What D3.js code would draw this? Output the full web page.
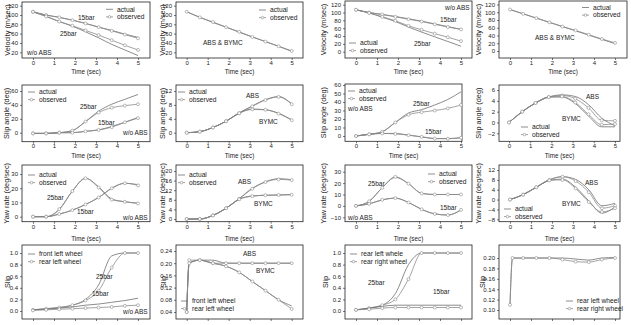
<!DOCTYPE html>
<html><head><meta charset="utf-8">
<script src="https://cdn.jsdelivr.net/npm/d3@7"></script>
<style>body{margin:0;background:#fff}svg{display:block;font-family:"Liberation Sans",Arial,sans-serif}</style>
</head><body><svg id="c" width="631" height="325"></svg>
<script>
// time grids (sec)
const T  = [0,0.625,1.25,1.875,2.5,3.125,3.75,4.375,5];
const T2 = [0,0.12,0.625,1.25,1.875,2.5,3.125,3.75,4.375,5];
const xTicks = [0,1,2,3,4,5];

// Row 1: velocity (m/sec)
const velA15act = [107,100,95,89,82,74,67,59,52];
const velA15obs = [107,100,95,89,82,74,66,58,50];
const velA25act = [107,97,86,76,64,51,37,25,13];
const velA25obs = [107,97,86,77,67,57,46,35,25];
const velBact   = [107,95,84,74,63,53,43,33,22];
const velBobs   = [107,95,85,74,64,53,43,33,23];
const velC15act = [107,100,95,90,84,78,71,64,57];
const velC15obs = [107,100,95,89,83,77,70,63,57];
const velC25act = [107,99,88,77,63,50,38,26,14];
const velC25obs = [107,99,89,79,66,56,46,37,27];
const velDact   = [107,96,85,74,63,52,41,30,19];
const velDobs   = [107,96,85,74,63,53,42,31,21];

// Row 2: slip angle (deg)
const saA25act = [-1,-1,0,3,16,31,41,48,55];
const saA25obs = [-1,-1,0,3,16,29,36,39,41];
const saA15act = [-1,-1,0,0,2,4,9,15,22];
const saA15obs = [-1,-1,0,0,2,4,8,15,21];
const saBabsAct = [0,0.3,1.5,3.3,5.7,7.7,9.5,10.4,8.3];
const saBabsObs = [0,0.3,1.5,3.3,5.6,7.6,9.4,10.3,8.2];
const saBbymcAct = [0,0.3,1.5,3.3,5.7,6.8,6.6,5.6,3.7];
const saBbymcObs = [0,0.3,1.5,3.3,5.6,6.7,6.6,5.5,3.6];
const saC25act = [0,2,5,16,27,31,36.5,43,52];
const saC25obs = [0,2,5,16,25,28,30,32.5,36.5];
const saC15act = [0,2,3,3,1,-1,-3,-3,-2];
const saC15obs = [0,2,3,2.5,1,-1,-3,-3.2,-2];
const saDabsAct = [0,2,3.6,4.7,5.1,4.8,3.3,0.8,-0.6];
const saDabsObs = [0,2,3.6,4.7,5.0,4.4,2.7,0.4,0.3];
const saDbymcAct = [0,2,3.6,4.7,4.7,3.5,1.2,-0.8,-0.8];
const saDbymcObs = [0,2,3.6,4.7,4.8,3.7,1.5,-0.4,-0.3];

// Row 3: yaw rate (deg/sec)
const yrA25act = [0,0,5,18,27,21,12.5,10.5,9.5];
const yrA25obs = [0,0,5.3,18,27,20.5,12,10.5,9.3];
const yrA15act = [0,0,1.8,4.6,8.6,13.5,20,23.5,22.5];
const yrA15obs = [0,0,1.9,4.6,8.6,13.5,20,23.5,22];
const yrBabsAct = [0,0,1.5,4.5,8.5,12.8,15.5,16.8,16.4];
const yrBabsObs = [0,0,1.5,4.5,8.4,12.6,15.4,16.5,16.2];
const yrBbymcAct = [0,0,1.5,4.5,8.3,9.6,9.9,10,10.2];
const yrBbymcObs = [0,0,1.5,4.5,8.2,9.5,9.9,10,10.1];
const yrC25act = [0,4,16,25,19.5,11,10,10,10];
const yrC25obs = [0,4,16,25.5,19.5,11,10,10,10];
const yrC15act = [0,1.8,5.3,6.8,3,-3,-7,-8,-3.5];
const yrC15obs = [0,1.8,5.3,6.8,3,-3,-7,-8,-3.5];
const yrDabsAct = [0,2,5,8,9.3,8.2,4,-2.5,-1.5];
const yrDabsObs = [0,2,5,8,9.3,7.5,3,-3.5,-2.5];
const yrDbymcAct = [0,2,5,7.8,8.3,5,-0.5,-5.5,-3];
const yrDbymcObs = [0,2,5,7.8,8,4.5,-1,-5,-3.5];

// Row 4: slip
const slA25front = [0.02,0.04,0.06,0.1,0.2,0.45,0.95,1.0,1.0];
const slA25rear  = [0.02,0.04,0.06,0.1,0.18,0.35,0.75,1.0,1.0];
const slA15front = [0.02,0.03,0.05,0.07,0.1,0.12,0.15,0.18,0.22];
const slA15rear  = [0.01,0.02,0.03,0.04,0.05,0.06,0.07,0.09,0.1];
const slBabsFront  = [0.04,0.2,0.21,0.21,0.2,0.2,0.2,0.2,0.2,0.2];
const slBabsRear   = [0.04,0.21,0.21,0.2,0.2,0.2,0.2,0.2,0.2,0.2];
const slBbymcFront = [0.04,0.2,0.21,0.2,0.19,0.17,0.14,0.11,0.08,0.06];
const slBbymcRear  = [0.04,0.2,0.21,0.2,0.19,0.17,0.14,0.11,0.08,0.05];
const slC25left  = [0.02,0.05,0.1,0.3,0.8,1.0,1.0,1.0,1.0];
const slC25right = [0.02,0.05,0.1,0.2,0.55,1.0,1.0,1.0,1.0];
const slC15left  = [0.02,0.05,0.08,0.1,0.1,0.1,0.1,0.1,0.1];
const slC15right = [0.02,0.03,0.05,0.06,0.06,0.06,0.06,0.06,0.06];
const slDleft  = [0.11,0.2,0.2,0.2,0.2,0.2,0.198,0.196,0.2,0.201];
const slDright = [0.11,0.2,0.2,0.2,0.2,0.197,0.193,0.192,0.197,0.2];

// tick labels
const tVel1 = [20,40,60,80,100,120], tVel2 = [0,20,40,60,80,100,120];
const tSaA = [0,20,40,60], tSaB = [0,4,8,12], tSaC = [0,10,20,30,40,50,60], tSaD = [-2,0,2,4,6];
const tYrA = [0,10,20,30], tYrB = [0,4,8,12,16,20], tYrC = [-10,0,10,20,30], tYrD = [-8,-4,0,4,8,12];
const tSlA = [0,0.2,0.4,0.6,0.8,1.0], tSlB = [0.04,0.08,0.12,0.16,0.20,0.24], tSlD = [0.10,0.12,0.14,0.16,0.18,0.20];
const legAO = ["actual","observed"];

const S = (d,obs,t) => ({d, obs, t: t||T});

const panels = [
 // row 1
 {f:[22,150,2,58], xm:[33,138], ym:[120,5.7,20,52.3], yt:tVel1, fmt:"d", title:"Velocity (m/sec)", tx:7, xl:64.5, xtl:74,
  s:[S(velA15act,0),S(velA15obs,1),S(velA25act,0),S(velA25obs,1)],
  leg:{x:106,y:9.3,l:legAO}, notes:[[78,19.5,"15bar"],[60,36,"25bar"],[27,55,"w/o ABS"]]},
 {f:[176,303,2,58], xm:[186.7,291.7], ym:[120,5.7,20,52.3], yt:tVel1, fmt:"d", title:"Velocity (m/sec)", tx:162, xl:64.5, xtl:74,
  s:[S(velBact,0),S(velBobs,1)],
  leg:{x:259,y:10,l:legAO}, notes:[[203,45,"ABS & BYMC"]]},
 {f:[345,472,1,58], xm:[356,461], ym:[120,4.7,0,51.7], yt:tVel2, fmt:"d", title:"Velocity (m/sec)", tx:323, xl:64.5, xtl:74,
  s:[S(velC15act,0),S(velC15obs,1),S(velC25act,0),S(velC25obs,1)],
  leg:{x:349,y:43,l:legAO}, notes:[[445,10,"w/o ABS"],[440,22,"15bar"],[414,46,"25bar"]]},
 {f:[499,627,1,58], xm:[510,615], ym:[120,4.5,0,51], yt:tVel2, fmt:"d", title:"Velocity (m/sec)", tx:478, xl:64.5, xtl:74,
  s:[S(velDact,0),S(velDobs,1)],
  leg:{x:582,y:7.5,l:legAO}, notes:[[535,40,"ABS & BYMC"]]},
 // row 2
 {f:[22,150,85,141.7], xm:[33,138], ym:[60,91,0,132.7], yt:tSaA, fmt:"d", title:"Slip angle (deg)", tx:6, xl:147.7, xtl:157.7,
  s:[S(saA25act,0),S(saA25obs,1),S(saA15act,0),S(saA15obs,1)],
  leg:{x:28,y:92,l:legAO}, notes:[[80,109,"25bar"],[98,125,"15bar"],[123,135,"w/o ABS"]]},
 {f:[176,303,85,141.7], xm:[186.7,291.7], ym:[12,91,0,132.7], yt:tSaB, fmt:"d", title:"Slip angle (deg)", tx:162, xl:147.7, xtl:157.7,
  s:[S(saBabsAct,0),S(saBabsObs,1),S(saBbymcAct,0),S(saBbymcObs,1)],
  leg:{x:178,y:92,l:legAO}, notes:[[246,97.5,"ABS"],[259,124,"BYMC"]]},
 {f:[345,462,84,141.3], xm:[356,461], ym:[60,85,0,136], yt:tSaC, fmt:"d", title:"Slip angle (deg)", tx:323, xl:147.7, xtl:157.7,
  s:[S(saC25act,0),S(saC25obs,1),S(saC15act,0),S(saC15obs,1)],
  leg:{x:348,y:91,l:legAO}, notes:[[348,111,"w/o ABS"],[413,106,"25bar"],[425,134,"15bar"]]},
 {f:[499,620,85,141.3], xm:[509,615], ym:[6,90,-2,133.3], yt:tSaD, fmt:"d", title:"Slip angle (deg)", tx:478, xl:147.7, xtl:157.7,
  s:[S(saDabsAct,0),S(saDabsObs,1),S(saDbymcAct,0),S(saDbymcObs,1)],
  leg:{x:521,y:127,l:legAO}, notes:[[586,98.5,"ABS"],[562,121,"BYMC"]]},
 // row 3
 {f:[22,150,165,221.7], xm:[33,138], ym:[30,174,0,216.7], yt:tYrA, fmt:"d", title:"Yaw rate (deg/sec)", tx:6, xl:228.7, xtl:241,
  s:[S(yrA25act,0),S(yrA25obs,1),S(yrA15act,0),S(yrA15obs,1)],
  leg:{x:28,y:175,l:legAO}, notes:[[47,199.5,"25bar"],[77,214,"15bar"],[123,219.5,"w/o ABS"]]},
 {f:[176,303,165,221.7], xm:[186.7,291.7], ym:[20,171,0,219], yt:tYrB, fmt:"d", title:"Yaw rate (deg/sec)", tx:162, xl:228.7, xtl:241,
  s:[S(yrBabsAct,0),S(yrBabsObs,1),S(yrBbymcAct,0),S(yrBbymcObs,1)],
  leg:{x:178,y:175,l:legAO}, notes:[[238,183.5,"ABS"],[254,205.5,"BYMC"]]},
 {f:[345,472,165,221.7], xm:[356,461], ym:[30,171.7,-10,217.3], yt:tYrC, fmt:"d", title:"Yaw rate (deg/sec)", tx:323, xl:228.7, xtl:241,
  s:[S(yrC25act,0),S(yrC25obs,1),S(yrC15act,0),S(yrC15obs,1)],
  leg:{x:428,y:174,l:legAO}, notes:[[368,185.5,"25bar"],[440,209.5,"15bar"],[348,220,"w/o ABS"]]},
 {f:[499,620,165,221.7], xm:[510,615], ym:[12,170,-8,219.3], yt:tYrD, fmt:"d", title:"Yaw rate (deg/sec)", tx:478, xl:228.7, xtl:241,
  s:[S(yrDabsAct,0),S(yrDabsObs,1),S(yrDbymcAct,0),S(yrDbymcObs,1)],
  leg:{x:504,y:209,l:legAO}, notes:[[585,184.5,"ABS"],[562,205.5,"BYMC"]]},
 // row 4 (x-axis labels fall below the visible area in the reference)
 {f:[22,150,245,319], xm:[33,138], ym:[1,253,0,311], yt:tSlA, fmt:".1f", title:"Slip", tx:7, noX:true,
  s:[S(slA25front,0),S(slA25rear,1),S(slA15front,0),S(slA15rear,1)],
  leg:{x:28,y:254,l:["front left wheel","rear left wheel"]}, notes:[[96,279,"25bar"],[92,296,"15bar"],[123,314,"w/o ABS"]]},
 {f:[176,303,245,319], xm:[186.7,291.7], ym:[0.24,251,0.04,312], yt:tSlB, fmt:".2f", title:"Slip", tx:163, noX:true,
  s:[S(slBabsFront,0,T2),S(slBabsRear,1,T2),S(slBbymcFront,0,T2),S(slBbymcRear,1,T2)],
  leg:{x:181,y:301,l:["front left wheel","rear left wheel"]}, notes:[[243,256,"ABS"],[256,273,"BYMC"]]},
 {f:[345,472,245,319], xm:[356,461], ym:[1,253,0,311], yt:tSlA, fmt:".1f", title:"Slip", tx:325, noX:true,
  s:[S(slC25left,0),S(slC25right,1),S(slC15left,0),S(slC15right,1)],
  leg:{x:350,y:254,l:["rear left whele","rear right wheel"]}, notes:[[368,285,"25bar"],[433,294,"15bar"]]},
 {f:[499,620,245,319], xm:[510,615], ym:[0.2,258,0.1,310], yt:tSlD, fmt:".2f", title:"Slip", tx:482, noX:true,
  s:[S(slDleft,0,T2),S(slDright,1,T2)],
  leg:{x:566,y:301,l:["rear left wheel","rear right wheel"]}, notes:[]},
];

const svg = d3.select("#c");
const ACT = "#6e6e6e", OBS = "#8c8c8c", INK = "#222";

panels.forEach(p => {
  const [x0,x1,y0,y1] = p.f;
  const x = d3.scaleLinear().domain([0,5]).range(p.xm);
  const y = d3.scaleLinear().domain([p.ym[0],p.ym[2]]).range([p.ym[1],p.ym[3]]);
  const g = svg.append("g");
  const cid = "clip" + Math.round(x0) + "_" + Math.round(y0);
  g.append("clipPath").attr("id",cid).append("rect").attr("x",x0).attr("y",y0).attr("width",x1-x0).attr("height",y1-y0);

  // axes
  const xa = g.append("g").attr("transform",`translate(0,${y1})`)
    .call(d3.axisBottom(x).tickValues(xTicks).tickSize(2).tickPadding(1).tickFormat(d3.format("d")));
  xa.select(".domain").remove();
  if (p.noX) {
    xa.selectAll("text").remove();
  } else {
    xa.selectAll("text").attr("font-size",6).attr("fill",INK).attr("dy",null).attr("y",null)
      .attr("transform",`translate(0,${p.xl-y1})`);
  }
  const ya = g.append("g").attr("transform",`translate(${x0},0)`)
    .call(d3.axisLeft(y).tickValues(p.yt).tickSize(2).tickPadding(2).tickFormat(d3.format(p.fmt)));
  ya.select(".domain").remove();
  ya.selectAll("text").attr("font-size",6).attr("fill",INK);
  g.selectAll(".tick line").attr("stroke",INK).attr("stroke-width",0.6);

  g.append("rect").attr("x",x0).attr("y",y0).attr("width",x1-x0).attr("height",y1-y0)
    .attr("fill","none").attr("stroke",INK).attr("stroke-width",0.8);

  if (!p.noX) {
    g.append("text").attr("x",(x0+x1)/2).attr("y",p.xtl).attr("text-anchor","middle")
      .attr("font-size",6.3).attr("fill",INK).text("Time (sec)");
  }
  g.append("text").attr("transform",`translate(${p.tx+2.5},${(y0+y1)/2}) rotate(-90)`)
    .attr("text-anchor","middle").attr("font-size",7.3).attr("fill",INK).text(p.title);

  // series
  const pg = g.append("g").attr("clip-path",`url(#${cid})`);
  p.s.forEach(s => {
    const pts = s.d.map((v,i) => [s.t[i], v]);
    const line = d3.line().x(d=>x(d[0])).y(d=>y(d[1])).curve(d3.curveMonotoneX);
    pg.append("path").attr("d",line(pts)).attr("fill","none")
      .attr("stroke", s.obs ? OBS : ACT).attr("stroke-width",0.8);
    if (s.obs) {
      pg.selectAll(null).data(pts).enter().append("circle")
        .attr("cx",d=>x(d[0])).attr("cy",d=>y(d[1])).attr("r",1.5)
        .attr("fill","#fff").attr("stroke",OBS).attr("stroke-width",0.6);
    }
  });

  // legend
  p.leg.l.forEach((lab,i) => {
    const ly = p.leg.y + i*7.6;
    g.append("line").attr("x1",p.leg.x).attr("x2",p.leg.x+7).attr("y1",ly).attr("y2",ly)
      .attr("stroke", i ? OBS : ACT).attr("stroke-width",0.8);
    if (i) g.append("circle").attr("cx",p.leg.x+3.5).attr("cy",ly).attr("r",1.3)
      .attr("fill","#fff").attr("stroke",OBS).attr("stroke-width",0.6);
    g.append("text").attr("x",p.leg.x+11).attr("y",ly+2.3).attr("font-size",6.7).attr("fill",INK).text(lab);
  });

  p.notes.forEach(n => {
    g.append("text").attr("x",n[0]).attr("y",n[1]).attr("font-size",6.5).attr("fill",INK).text(n[2]);
  });
});
</script>
</body></html>
